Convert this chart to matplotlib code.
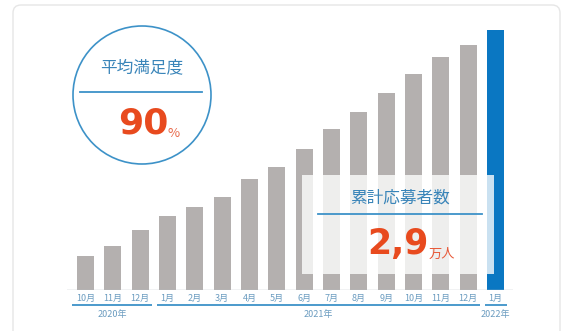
import matplotlib
matplotlib.use("Agg")
import matplotlib.pyplot as plt
from matplotlib.patches import Circle, Rectangle, FancyBboxPatch
from matplotlib.transforms import blended_transform_factory

plt.rcParams['font.family'] = ['Noto Sans CJK JP', 'DejaVu Sans']

# Cumulative applicants (unit: 10,000 people)
months = ["10月", "11月", "12月", "1月", "2月", "3月", "4月", "5月", "6月",
          "7月", "8月", "9月", "10月", "11月", "12月", "1月"]
applicants = [0.38, 0.49, 0.67, 0.83, 0.93, 1.04, 1.24, 1.37, 1.57,
              1.80, 1.99, 2.20, 2.41, 2.60, 2.73, 2.90]
years = ["2020年", "2021年", "2022年"]
year_spans = [(0, 2), (3, 14), (15, 15)]
satisfaction = 90
total_label = "2,9"

GRAY = "#b4b0af"
BLUE_BAR = "#0a77c2"
ORANGE = "#e84a1e"
BLUE_TEXT = "#3a85b9"
LINE_BLUE = "#3d92c8"
MONTH_COLOR = "#6b9cc0"

W, H = 563, 331
fig = plt.figure(figsize=(W / 100, H / 100), dpi=100)
fig.patch.set_facecolor("white")

# --- bar axes (pixel-based placement) ---
left_px, right_px = 67, 513
base_px, top_px = 290, 30
ax = fig.add_axes([left_px / W, (H - base_px) / H,
                   (right_px - left_px) / W, (base_px - top_px) / H])
step = (495.5 - 85.5) / 15
ax.set_xlim(-(85.5 - left_px) / step, 15 + (right_px - 495.5) / step)
ax.set_ylim(0, applicants[-1])
colors = [GRAY] * (len(applicants) - 1) + [BLUE_BAR]
ax.bar(range(len(applicants)), applicants, width=0.63, color=colors, zorder=2)
ax.axhline(0, color="#b8bfc2", lw=1.0, zorder=3)
for s in ax.spines.values():
    s.set_visible(False)
ax.set_yticks([])
ax.set_xticks(range(len(months)))
ax.set_xticklabels(months, fontsize=6.5, color=MONTH_COLOR)
ax.tick_params(axis="x", length=0, pad=2.5)
ax.set_facecolor("none")

axh = base_px - top_px
tr = blended_transform_factory(ax.transData, ax.transAxes)
for (a, b), label in zip(year_spans, years):
    x0 = a - (0.5 if a == 0 else 0.4)
    x1 = b + 0.42
    ax.plot([x0, x1], [-15 / axh, -15 / axh], color=LINE_BLUE, lw=1.3,
            transform=tr, clip_on=False, solid_capstyle="butt")
    ax.text((a + b) / 2, -24 / axh, label, transform=tr, ha="center",
            va="center", fontsize=6.5, color=MONTH_COLOR)

# --- overlay axes in pixel coordinates ---
ov = fig.add_axes([0, 0, 1, 1], zorder=5)
ov.set_xlim(0, W)
ov.set_ylim(H, 0)
ov.axis("off")
ov.patch.set_alpha(0)

card = FancyBboxPatch((13, 5), 547, 345, boxstyle="round,pad=0,rounding_size=8",
                      fc="none", ec="#e6e6e6", lw=1.0)
ov.add_patch(card)

# satisfaction badge
ov.add_patch(Circle((142, 95), 69, fc="white", ec=LINE_BLUE, lw=1.2))
ov.text(142, 68, "平均満足度", ha="center", va="center", fontsize=12,
        color=BLUE_TEXT)
ov.plot([80, 202], [92, 92], color=LINE_BLUE, lw=1.3)
ov.text(168, 133, f"{satisfaction}", ha="right", va="baseline", fontsize=26,
        fontweight="bold", color=ORANGE, family="DejaVu Sans")
ov.text(167, 137, "%", ha="left", va="baseline", fontsize=9.5,
        color="#e8694a")

# cumulative applicants panel
ov.add_patch(Rectangle((302, 175), 192, 99, fc="white", ec="none", alpha=0.79))
ov.text(400, 198, "累計応募者数", ha="center", va="center", fontsize=12,
        color=BLUE_TEXT)
ov.plot([318, 482], [214, 214], color=LINE_BLUE, lw=1.3)
ov.text(429, 254, total_label, ha="right", va="baseline", fontsize=25,
        fontweight="bold", color=ORANGE, family="DejaVu Sans")
ov.text(429, 258, "万人", ha="left", va="baseline", fontsize=9.5,
        color="#e85a3a")

fig.savefig("out.png", dpi=100, facecolor="white")
